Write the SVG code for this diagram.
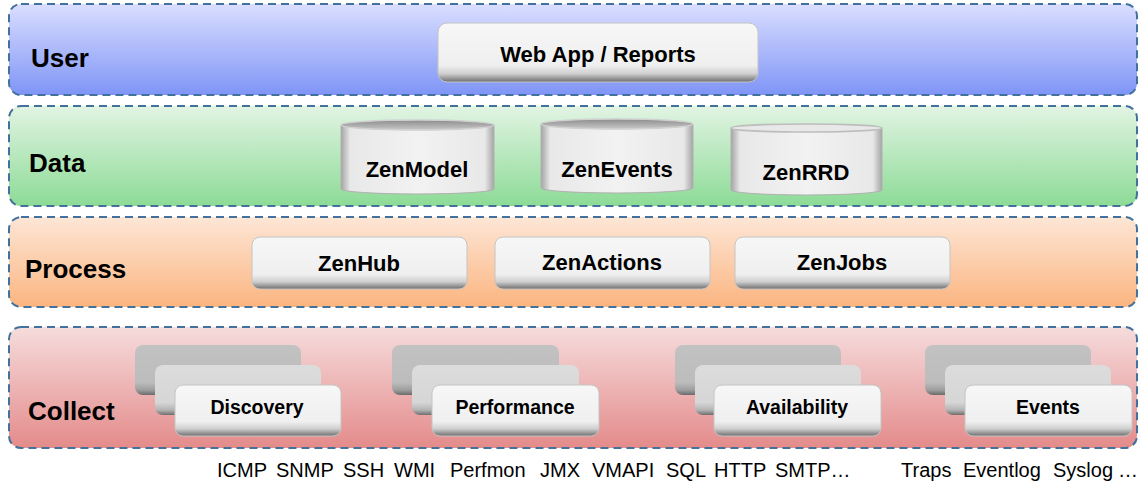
<svg xmlns="http://www.w3.org/2000/svg" width="1138" height="482" viewBox="0 0 1138 482">
<defs>
<linearGradient id="gUser" x1="0" y1="0" x2="0" y2="1"><stop offset="0" stop-color="#dadeff"/><stop offset="1" stop-color="#7f95f6"/></linearGradient>
<linearGradient id="gData" x1="0" y1="0" x2="0" y2="1"><stop offset="0" stop-color="#e2f4e3"/><stop offset="1" stop-color="#8cdb96"/></linearGradient>
<linearGradient id="gProc" x1="0" y1="0" x2="0" y2="1"><stop offset="0" stop-color="#fde6d6"/><stop offset="1" stop-color="#fbb580"/></linearGradient>
<linearGradient id="gColl" x1="0" y1="0" x2="0" y2="1"><stop offset="0" stop-color="#f6dcdc"/><stop offset="1" stop-color="#e48b8b"/></linearGradient>
<linearGradient id="gBtn" x1="0" y1="0" x2="0" y2="1"><stop offset="0" stop-color="#f7f7f7"/><stop offset="0.72" stop-color="#efefef"/><stop offset="0.86" stop-color="#cfcfcf"/><stop offset="1" stop-color="#6e6e6e"/></linearGradient>
<linearGradient id="gMid" x1="0" y1="0" x2="0" y2="1"><stop offset="0" stop-color="#dcdcdc"/><stop offset="0.75" stop-color="#d6d6d6"/><stop offset="0.9" stop-color="#b4b4b4"/><stop offset="1" stop-color="#6e6e6e"/></linearGradient>
<linearGradient id="gBack" x1="0" y1="0" x2="0" y2="1"><stop offset="0" stop-color="#c2c2c2"/><stop offset="0.75" stop-color="#bcbcbc"/><stop offset="0.9" stop-color="#9e9e9e"/><stop offset="1" stop-color="#6a6a6a"/></linearGradient>
<linearGradient id="gCylBody" x1="0" y1="0" x2="1" y2="0"><stop offset="0" stop-color="#a4a4a4"/><stop offset="0.06" stop-color="#e8e8e8"/><stop offset="0.5" stop-color="#f2f2f2"/><stop offset="0.94" stop-color="#e8e8e8"/><stop offset="1" stop-color="#a4a4a4"/></linearGradient>
<linearGradient id="gCylTop" x1="0" y1="0" x2="0" y2="1"><stop offset="0" stop-color="#8c8c8c"/><stop offset="1" stop-color="#c8c8c8"/></linearGradient>
<style>
.band{stroke:#41719c;stroke-width:2;stroke-dasharray:8 5}
.lbl{font-family:"Liberation Sans",Arial,sans-serif;font-weight:bold;font-size:26px;fill:#000}
.t{font-family:"Liberation Sans",Arial,sans-serif;font-weight:bold;font-size:22px;fill:#000;text-anchor:middle}
.tc{font-family:"Liberation Sans",Arial,sans-serif;font-weight:bold;font-size:19.5px;fill:#000;text-anchor:middle}
.btn{fill:url(#gBtn);stroke:#c4c4c4;stroke-width:1}
.mid{fill:url(#gMid)}
.back{fill:url(#gBack)}
.cyl{fill:url(#gCylBody);stroke:#b0b0b0;stroke-width:1}
.cyltop{fill:url(#gCylTop);stroke:#d0d0d0;stroke-width:1.5}
.proto{font-family:"Liberation Sans",Arial,sans-serif;font-size:20px;fill:#000}
</style>
</defs>

<g id="layer-user">
<rect class="band" x="9" y="4" width="1128" height="91" rx="12" fill="url(#gUser)"/>
<text class="lbl" x="31" y="67">User</text>
</g>
<g id="layer-data">
<rect class="band" x="9" y="106" width="1128" height="100" rx="12" fill="url(#gData)"/>
<text class="lbl" x="29" y="172">Data</text>
</g>
<g id="layer-process">
<rect class="band" x="9" y="217" width="1128" height="90" rx="12" fill="url(#gProc)"/>
<text class="lbl" x="25" y="278">Process</text>
</g>
<g id="layer-collect">
<rect class="band" x="9" y="327" width="1128" height="121" rx="12" fill="url(#gColl)"/>
<text class="lbl" x="28" y="420">Collect</text>
</g>

<g id="webapp">
<rect class="btn" x="438" y="23" width="320" height="59" rx="9"/>
<text class="t" x="598" y="62">Web App / Reports</text>
</g>

<g id="zenmodel">
<path class="cyl" d="M341,125 V189 A76.5,5 0 0 0 494,189 V125 Z"/>
<ellipse class="cyltop" cx="417.5" cy="125" rx="76.5" ry="5"/>
<text class="t" x="417" y="177">ZenModel</text>
</g>
<g id="zenevents">
<path class="cyl" d="M541,124 V188 A76,5 0 0 0 693,188 V124 Z"/>
<ellipse class="cyltop" cx="617" cy="124" rx="76" ry="5"/>
<text class="t" x="617" y="177">ZenEvents</text>
</g>
<g id="zenrrd">
<path class="cyl" d="M731,128 V190 A75.5,5 0 0 0 882,190 V128 Z"/>
<ellipse class="cyltop" cx="806.5" cy="128" rx="75.5" ry="4" style="fill:#e8e8e8;stroke:#bdbdbd"/>
<text class="t" x="806" y="180">ZenRRD</text>
</g>

<g id="zenhub">
<rect class="btn" x="252" y="237" width="215" height="52" rx="8"/>
<text class="t" x="359" y="271">ZenHub</text>
</g>
<g id="zenactions">
<rect class="btn" x="495" y="237" width="215" height="52" rx="8"/>
<text class="t" x="602" y="270">ZenActions</text>
</g>
<g id="zenjobs">
<rect class="btn" x="735" y="237" width="215" height="52" rx="8"/>
<text class="t" x="842" y="270">ZenJobs</text>
</g>

<g id="discovery">
<rect class="back" x="135" y="345" width="166" height="50" rx="8"/>
<rect class="mid" x="155" y="365" width="166" height="50" rx="8"/>
<rect class="btn" x="175" y="385" width="166" height="51" rx="8"/>
<text class="tc" x="257" y="414">Discovery</text>
</g>
<g id="performance">
<rect class="back" x="392" y="345" width="167" height="50" rx="8"/>
<rect class="mid" x="412" y="365" width="167" height="50" rx="8"/>
<rect class="btn" x="432" y="385" width="167" height="51" rx="8"/>
<text class="tc" x="515" y="414">Performance</text>
</g>
<g id="availability">
<rect class="back" x="675" y="345" width="166" height="50" rx="8"/>
<rect class="mid" x="695" y="365" width="166" height="50" rx="8"/>
<rect class="btn" x="714" y="385" width="167" height="51" rx="8"/>
<text class="tc" x="797" y="414">Availability</text>
</g>
<g id="events">
<rect class="back" x="925" y="345" width="166" height="50" rx="8"/>
<rect class="mid" x="945" y="365" width="166" height="50" rx="8"/>
<rect class="btn" x="965" y="385" width="167" height="51" rx="8"/>
<text class="tc" x="1048" y="414">Events</text>
</g>

<g id="connectors"></g>

<g id="protocols">
<text class="proto" y="477"><tspan x="217">ICMP</tspan><tspan x="276">SNMP</tspan><tspan x="343">SSH</tspan><tspan x="394">WMI</tspan><tspan x="450">Perfmon</tspan><tspan x="540">JMX</tspan><tspan x="592">VMAPI</tspan><tspan x="666">SQL</tspan><tspan x="714">HTTP</tspan><tspan x="775">SMTP…</tspan></text>
<text class="proto" y="477"><tspan x="901">Traps</tspan><tspan x="963">Eventlog</tspan><tspan x="1053">Syslog</tspan><tspan x="1118">…</tspan></text>
</g>
</svg>
